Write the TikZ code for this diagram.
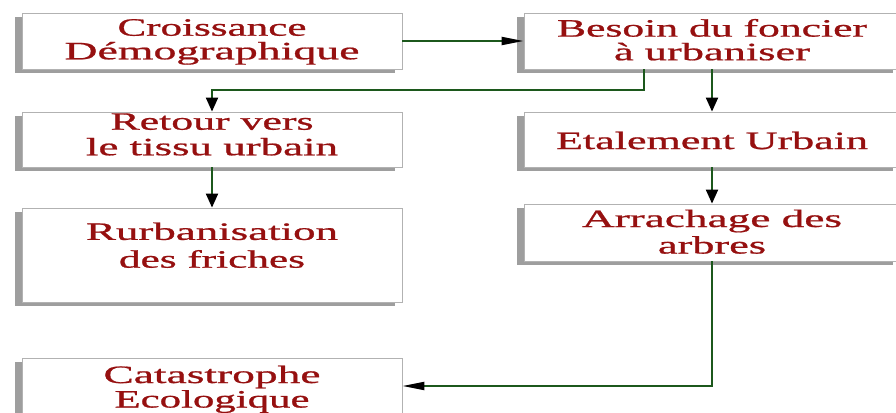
\documentclass[tikz,border=0pt]{standalone}
\usepackage{fontspec}
\usepackage{graphicx}
\setmainfont{Liberation Serif}
\newfontfamily\boxfont{Liberation Serif}[FakeBold=0.7]
\usetikzlibrary{arrows.meta,shadows}
\definecolor{txtred}{RGB}{150,16,16}
\definecolor{lngreen}{RGB}{28,88,28}
\newcommand\fitline[2]{\resizebox{#1pt}{\height}{#2}}
% raise, extra row gap, width1, text1, width2, text2
\newcommand\twolines[6]{\raisebox{#1pt}[\height][\depth]{\begin{tabular}{@{}c@{}}\fitline{#3}{#4}\\[#2pt]\fitline{#5}{#6}\end{tabular}}}
\tikzset{
  boxnode/.style={draw=gray!60, line width=0.8pt, fill=white, rectangle,
    inner sep=0pt, text=txtred, font=\boxfont\fontsize{25}{24}\selectfont,
    drop shadow={shadow xshift=-7pt, shadow yshift=-4pt, fill=black!38, opacity=1}},
  connv/.style={draw=lngreen, line width=2pt,
    -{Triangle[color=black, length=14pt, width=12pt]}},
  connh/.style={draw=lngreen, line width=2pt,
    -{Triangle[color=black, length=22pt, width=8pt]}}
}
\begin{document}
\begin{tikzpicture}[x=1pt,y=-1pt]
\useasboundingbox (0,0) rectangle (896,412);
\node[boxnode, minimum width=380pt, minimum height=56pt] (A) at (212,41)
  {\twolines{-1.7}{-1}{189}{Croissance}{295}{Démographique}};
\node[boxnode, minimum width=376pt, minimum height=56pt] (B) at (712,41)
  {\twolines{-2.2}{-1}{310}{Besoin du foncier}{196}{à urbaniser}};
\node[boxnode, minimum width=380pt, minimum height=55pt] (C) at (212,139.5)
  {\twolines{1.8}{1}{203}{Retour vers}{252}{le tissu urbain}};
\node[boxnode, minimum width=376pt, minimum height=55pt] (D) at (712,139.5)
  {\raisebox{-1pt}[\height][\depth]{\fitline{312}{Etalement Urbain}}};
\node[boxnode, minimum width=380pt, minimum height=94pt] (E) at (212,255)
  {\twolines{6.3}{3}{252}{Rurbanisation}{186}{des friches}};
\node[boxnode, minimum width=376pt, minimum height=57pt] (F) at (712,232.5)
  {\twolines{-2.7}{2}{260}{Arrachage des}{108}{arbres}};
\node[boxnode, minimum width=380pt, minimum height=62pt] (G) at (212,389)
  {\twolines{-1.2}{0}{217}{Catastrophe}{195}{Ecologique}};
\coordinate (bc) at (644,90);
\draw[connh] (A.east) -- (B.west);
\draw[connv] (B.south -| bc) -- (bc) -| (C.north);
\draw[connv] (B.south) -- (D.north);
\draw[connv] (C.south) -- (E.north);
\draw[connv] (D.south) -- (F.north);
\draw[connh] (F.south) |- ([yshift=3pt]G.east);
\end{tikzpicture}
\end{document}
